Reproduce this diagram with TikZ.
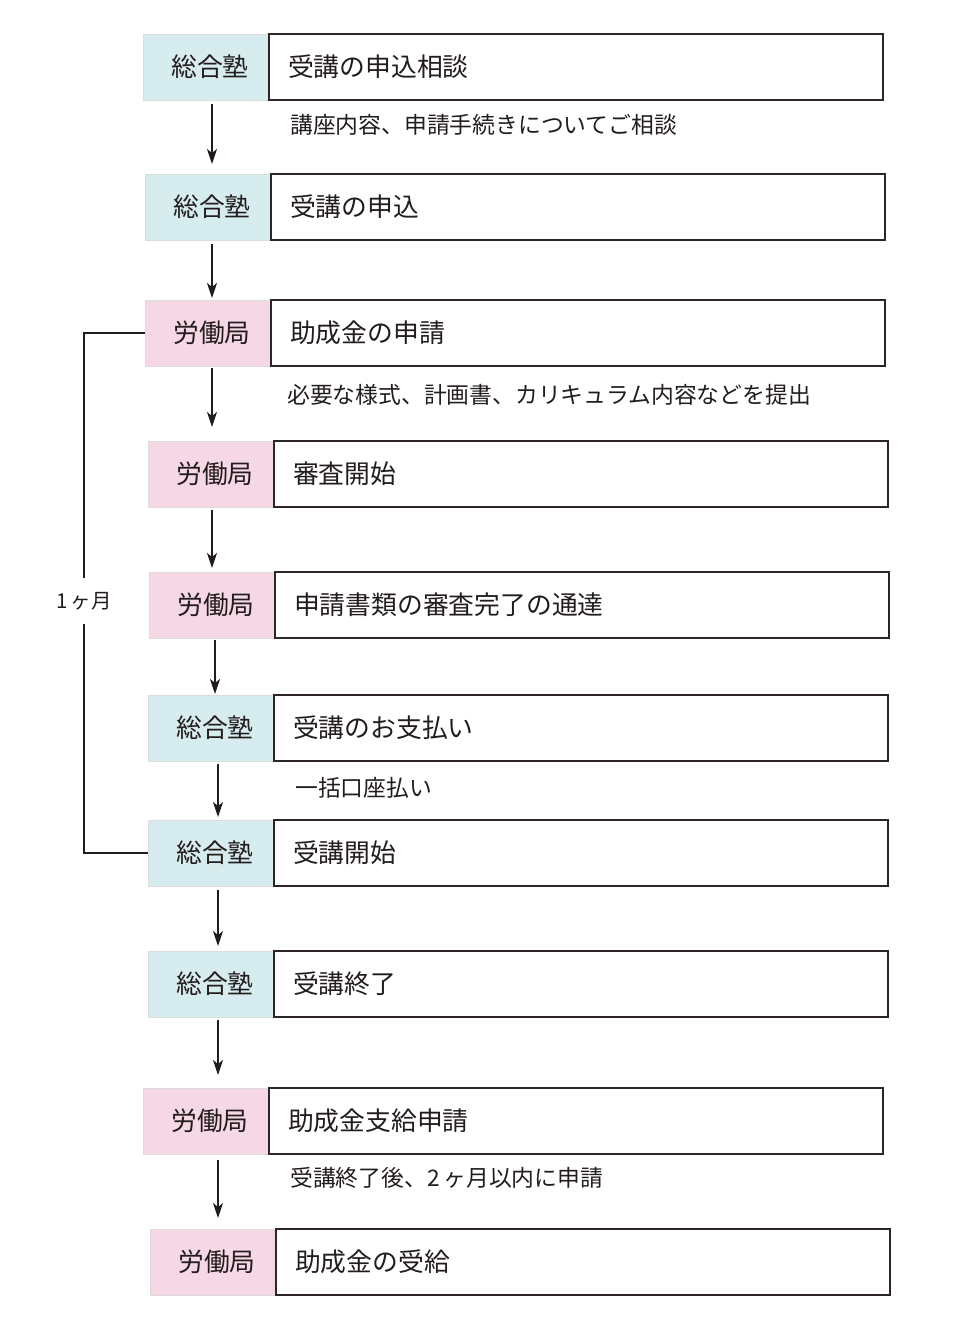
\documentclass[tikz,border=0pt]{standalone}
\usepackage{fontspec}
\setmainfont{Noto Sans CJK JP}
\usetikzlibrary{arrows.meta}
\definecolor{jukublue}{HTML}{D6ECEE}
\definecolor{rodopink}{HTML}{F5D7E5}
\definecolor{labedge}{HTML}{DCDCDC}
\definecolor{boxedge}{HTML}{2E2626}
\definecolor{inkc}{HTML}{231C1D}
\tikzset{
  labbox/.style={draw=labedge, line width=0.8pt, minimum width=126pt, minimum height=66pt,
    inner sep=0pt, outer sep=0pt, anchor=north west, text=inkc,
    font=\fontsize{25.8}{30}\selectfont, execute at begin node={\hspace*{8pt}}},
  juku/.style={labbox, fill=jukublue},
  rodo/.style={labbox, fill=rodopink},
  mainbox/.style={draw=boxedge, line width=1.5pt, minimum height=66pt, inner xsep=19pt,
    inner ysep=0pt, outer sep=0pt, text width=576pt, align=left, anchor=north west,
    text=inkc, font=\fontsize{25.8}{30}\selectfont},
  note/.style={anchor=west, inner sep=0pt, text=inkc, font=\fontsize{22.8}{27}\selectfont},
  arr/.style={draw=inkc, line width=1.5pt, -{Stealth[length=15pt,width=10pt,inset=4pt]}},
  bracket/.style={draw=inkc, line width=1.5pt}
}
\begin{document}
\begin{tikzpicture}[x=1pt,y=-1pt]
\useasboundingbox (0,0) rectangle (960,1340);
% rows
\node[juku] (l1) at (143,34) {総合塾};
\node[mainbox] (m1) at (l1.north east) {受講の申込相談};
\node[juku] (l2) at (145,174) {総合塾};
\node[mainbox] (m2) at (l2.north east) {受講の申込};
\node[rodo] (l3) at (145,300) {労働局};
\node[mainbox] (m3) at (l3.north east) {助成金の申請};
\node[rodo] (l4) at (148,441) {労働局};
\node[mainbox] (m4) at (l4.north east) {審査開始};
\node[rodo] (l5) at (149,572) {労働局};
\node[mainbox] (m5) at (l5.north east) {申請書類の審査完了の通達};
\node[juku] (l6) at (148,695) {総合塾};
\node[mainbox] (m6) at (l6.north east) {受講のお支払い};
\node[juku] (l7) at (148,820) {総合塾};
\node[mainbox] (m7) at (l7.north east) {受講開始};
\node[juku] (l8) at (148,951) {総合塾};
\node[mainbox] (m8) at (l8.north east) {受講終了};
\node[rodo] (l9) at (143,1088) {労働局};
\node[mainbox] (m9) at (l9.north east) {助成金支給申請};
\node[rodo] (l10) at (150,1229) {労働局};
\node[mainbox] (m10) at (l10.north east) {助成金の受給};
% notes
\node[note] (n1) at (290,125) {講座内容、申請手続きについてご相談};
\node[note] (n3) at (287,395) {必要な様式、計画書、カリキュラム内容などを提出};
\node[note] (n6) at (295,788) {一括口座払い};
\node[note] (n9) at (290,1178) {受講終了後、2\,ヶ月以内に申請};
% arrow columns
\coordinate (ca) at (212,0);
\coordinate (cb) at (215,0);
\coordinate (cc) at (218,0);
\draw[arr] ([yshift=-4pt]l1.south -| ca) -- ([yshift=10pt]l2.north -| ca);
\draw[arr] ([yshift=-4pt]l2.south -| ca) -- ([yshift=2pt]l3.north -| ca);
\draw[arr] ([yshift=-2pt]l3.south -| ca) -- ([yshift=14pt]l4.north -| ca);
\draw[arr] ([yshift=-3pt]l4.south -| ca) -- ([yshift=4pt]l5.north -| ca);
\draw[arr] ([yshift=-2pt]l5.south -| cb) -- ([yshift=1pt]l6.north -| cb);
\draw[arr] ([yshift=-3pt]l6.south -| cc) -- ([yshift=3pt]l7.north -| cc);
\draw[arr] ([yshift=-4pt]l7.south -| cc) -- ([yshift=5pt]l8.north -| cc);
\draw[arr] ([yshift=-3pt]l8.south -| cc) -- ([yshift=13pt]l9.north -| cc);
\draw[arr] ([yshift=-6pt]l9.south -| cc) -- ([yshift=11pt]l10.north -| cc);
% bracket
\node[inner sep=0pt, minimum height=45pt, text=inkc, font=\fontsize{20.5}{24}\selectfont] (mon) at (84,601) {1\,ヶ月};
\draw[bracket] (l3.west) -| (mon.north);
\draw[bracket] (mon.south) |- (l7.west);
\end{tikzpicture}
\end{document}
